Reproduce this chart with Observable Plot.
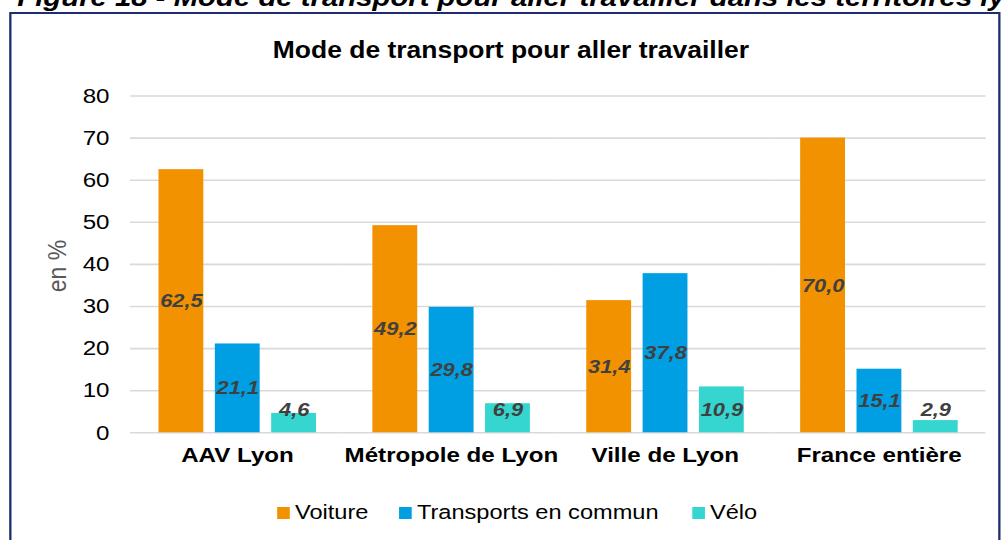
<!DOCTYPE html>
<html>
<head>
<meta charset="utf-8">
<script src="https://cdn.jsdelivr.net/npm/d3@7"></script>
<script src="https://cdn.jsdelivr.net/npm/@observablehq/plot@0.6"></script>
<style>
  html, body { margin: 0; padding: 0; background: #fff; overflow: hidden; width: 1003px; height: 540px; }
  #stage { position: relative; width: 872.2px; height: 540px; transform: scaleX(1.15); transform-origin: 0 0;
           font-family: 'Liberation Sans', Arial, sans-serif; color: #000; overflow: hidden; }
  #caption { position: absolute; left: 15px; top: -14.6px; font-size: 25.5px; line-height: 1; font-weight: bold;
             font-style: italic; white-space: nowrap; }
  #box { position: absolute; left: 8.1px; top: 12px; width: 861.5px; height: 600px; box-sizing: border-box;
         border: 2px solid #1f2d6e; background: #fff; }
  #title { position: absolute; left: 444.3px; top: 38.6px; transform: translateX(-50%); font-size: 23px;
           line-height: 1; font-weight: bold; white-space: nowrap; }
  #ylabel { position: absolute; left: 49.6px; top: 266px; transform: translate(-50%, -50%) rotate(-90deg);
            font-size: 23px; line-height: 1; color: #595959; white-space: nowrap; }
  .leg-sw { position: absolute; top: 507px; width: 11.3px; height: 12px; }
  .leg-tx { position: absolute; top: 501.6px; font-size: 20.5px; line-height: 1; white-space: nowrap; }
</style>
</head>
<body>
<div id="stage">
  <div id="caption">Figure 18 - Mode de transport pour aller travailler dans les territoires lyonnais</div>
  <div id="box"></div>
  <div id="title">Mode de transport pour aller travailler</div>
  <div id="ylabel">en %</div>
</div>
<script>
// ---- data ----
const regions = ["AAV Lyon", "Métropole de Lyon", "Ville de Lyon", "France entière"];
const modes = ["Voiture", "Transports en commun", "Vélo"];
const voiture = [62.5, 49.2, 31.4, 70.0];
const transports = [21.1, 29.8, 37.8, 15.1];
const velo = [4.6, 6.9, 10.9, 2.9];
const yTicks = [0, 10, 20, 30, 40, 50, 60, 70, 80];
const colors = ["#F39200", "#009FE3", "#36D6D0"];

const series = [voiture, transports, velo];
const data = regions.flatMap((r, i) => modes.map((m, j) => ({region: r, mode: m, value: series[j][i]})));

const stage = document.getElementById("stage");

const chart = Plot.plot({
  width: 872.2,
  height: 420,
  marginTop: 25.5,
  marginBottom: 57.7,
  marginLeft: 112.2,
  marginRight: 14.8,
  style: {fontFamily: "'Liberation Sans', Arial, sans-serif", fontSize: "21px", color: "#000",
          background: "transparent", overflow: "visible"},
  fx: {domain: regions, padding: 0, axis: null, label: null},
  x: {domain: modes, paddingInner: 0.21, paddingOuter: 0.473, axis: null},
  y: {domain: [0, 80], axis: null},
  color: {domain: modes, range: colors},
  marks: [
    Plot.ruleY(yTicks, {stroke: "#d9d9d9", strokeWidth: 1.6}),
    Plot.barY(data, {fx: "region", x: "mode", y: "value", fill: "mode"}),
    Plot.text(data, {
      fx: "region", x: "mode",
      y: d => Math.max(d.value / 2, 5.5),
      text: d => d.value.toFixed(1).replace(".", ","),
      fontFamily: "'Liberation Sans Narrow', 'Liberation Sans', Arial, sans-serif",
      fontWeight: "bold", fontStyle: "italic", fontSize: 19, fill: "#404040"
    }),
    Plot.text(yTicks, {
      fx: () => regions[0], y: d => d, text: d => String(d),
      frameAnchor: "left", textAnchor: "end", dx: -18.3, fontSize: 21, fill: "#000"
    }),
    Plot.text(regions, {
      fx: d => d, text: d => d, frameAnchor: "bottom", dy: 29.5,
      fontWeight: "bold", fontSize: 21, fill: "#000"
    })
  ]
});
chart.style.position = "absolute";
chart.style.left = "0px";
chart.style.top = "70px";
stage.appendChild(chart);

// legend
const legX = [[240.9, 256.5], [347.0, 362.6], [601.7, 617.4]];
modes.forEach((m, j) => {
  const sw = document.createElement("div");
  sw.className = "leg-sw";
  sw.style.left = legX[j][0] + "px";
  sw.style.background = colors[j];
  stage.appendChild(sw);
  const tx = document.createElement("div");
  tx.className = "leg-tx";
  tx.style.left = legX[j][1] + "px";
  tx.textContent = m;
  stage.appendChild(tx);
});
</script>
</body>
</html>
